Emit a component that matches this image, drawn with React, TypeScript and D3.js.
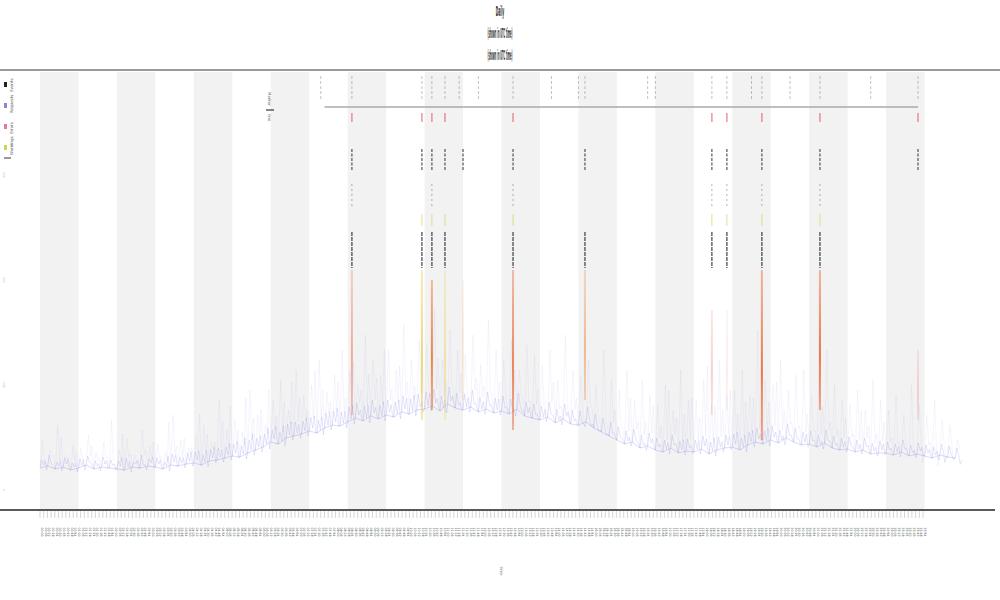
import React from "react";
import * as d3 from "d3";

// hours of the day, one band per hour
const hours = d3.range(0, 24);

// blue series: baseline (lower envelope) and spike tops, 5 samples per hour
const baseline = [
  42, 44, 41, 43, 40, 42, 45, 41, 43, 42, 41, 40, 43, 42, 44, 43, 41, 45, 44, 46,
  47, 45, 49, 50, 52, 54, 53, 57, 60, 63, 68, 66, 72, 74, 76, 79, 77, 82, 85, 84,
  88, 92, 89, 94, 91, 95, 93, 98, 96, 100, 101, 104, 99, 106, 102, 100, 103, 98, 101, 97,
  99, 96, 101, 94, 92, 90, 93, 87, 91, 86, 85, 88, 82, 78, 74, 70, 66, 68, 62, 64,
  60, 58, 62, 57, 59, 58, 61, 56, 60, 62, 63, 60, 65, 68, 66, 70, 67, 72, 68, 65,
  66, 63, 67, 62, 60, 61, 58, 60, 56, 57, 57, 55, 58, 54, 56, 54, 52, 55, 53, 52,
];
const peaks = [
  70, 60, 85, 55, 65, 62, 75, 58, 68, 90, 60, 72, 55, 80, 64, 66, 58, 95, 70, 62,
  75, 85, 68, 110, 80, 90, 78, 120, 95, 85, 110, 130, 100, 140, 115, 125, 150, 118, 135, 160,
  140, 125, 175, 150, 135, 160, 140, 185, 150, 170, 165, 200, 150, 180, 160, 155, 175, 145, 190, 160,
  150, 170, 140, 165, 155, 145, 160, 130, 175, 140, 135, 150, 125, 160, 130, 120, 140, 110, 130, 115,
  105, 125, 100, 140, 110, 110, 130, 105, 150, 115, 120, 140, 115, 180, 130, 125, 150, 120, 135, 140,
  115, 135, 160, 125, 110, 105, 120, 100, 130, 110, 100, 115, 95, 125, 105, 95, 110, 90, 85, 70,
];
// small wiggle just above the baseline
const ripple = [
  50, 55, 48, 52, 47, 51, 54, 49, 53, 50, 49, 52, 48, 55, 51, 52, 48, 56, 53, 57,
  58, 55, 61, 62, 63, 66, 64, 70, 72, 76, 80, 78, 86, 88, 89, 93, 90, 97, 99, 98,
  103, 107, 104, 110, 105, 110, 108, 114, 111, 116, 118, 121, 114, 123, 117, 116, 120, 113, 118, 112,
  114, 111, 117, 108, 106, 104, 108, 101, 106, 100, 99, 103, 96, 92, 88, 83, 79, 81, 75, 77,
  72, 70, 75, 69, 71, 70, 74, 68, 73, 75, 76, 72, 78, 82, 79, 84, 80, 86, 82, 78,
  79, 75, 80, 74, 72, 73, 70, 72, 67, 69, 68, 66, 70, 65, 67, 65, 63, 66, 64, 62,
];

// events (hour position), orange line top / bottom, colour and which annotation tracks show
const eventHours = [8.11, 9.93, 10.19, 10.53, 11.0, 12.3, 14.17, 17.47, 17.86, 18.77, 20.28, 22.83];
const eventTop = [240, 240, 230, 240, 230, 240, 240, 200, 200, 240, 240, 160];
const eventBottom = [95, 90, 100, 90, 110, 80, 110, 95, 100, 70, 100, 90];
const eventColor = ["#e8552a", "#e6c43a", "#e8702a", "#e6d050", "#e8a060", "#e8602a", "#e8803a", "#e86060", "#e8a0a0", "#e8602a", "#e8602a", "#f0a0a0"];
const eventOpacity = [0.45, 0.7, 0.85, 0.45, 0.2, 0.75, 0.5, 0.3, 0.2, 0.85, 0.85, 0.45];
const trackRed = [1, 1, 1, 1, 0, 1, 0, 1, 1, 1, 1, 1];
const trackBlack = [1, 1, 1, 1, 1, 1, 1, 1, 1, 1, 1, 1];
const trackGray = [1, 0, 1, 0, 0, 1, 0, 1, 1, 1, 1, 0];
const trackYellow = [0, 1, 1, 1, 0, 1, 0, 1, 1, 1, 1, 0];
const trackDense = [1, 1, 1, 1, 0, 1, 1, 1, 1, 1, 1, 0];

// small ticks in the top annotation strip
const topTicks = [7.3, 8.11, 9.93, 10.19, 10.53, 10.9, 11.4, 12.3, 13.3, 14.0, 14.17, 15.8, 16.0, 17.47, 17.86, 18.5, 18.77, 19.5, 20.28, 21.6, 22.83];

const legendNames = ["Events", "Requests", "Errors", "Warnings"];
const legendColors = ["#222222", "#8a84d8", "#e07aa0", "#c8d850"];
const titleLines = ["Daily", "(shown in UTC time)", "(shown in UTC time)"];
const yTickLabels = ["0", "100", "200", "300"];
const minuteLabels = ["00", "06", "12", "18", "24", "30", "36", "42", "48", "54"];

const W = 1000;
const H = 600;

export default function App() {
  const x = d3.scaleLinear().domain([0, 24]).range([40, 963]);
  const y = d3.scaleLinear().domain([0, 440]).range([510, 70]);
  const sampleX = (i: number) => x(i * 0.2);
  const step = sampleX(1) - sampleX(0);
  const line = d3.line();

  // tall faint spikes
  const spikePts: [number, number][] = [];
  baseline.forEach((b, i) => {
    spikePts.push([sampleX(i), y(b)]);
    spikePts.push([sampleX(i) + step * 0.3, y(peaks[i])]);
    spikePts.push([sampleX(i) + step * 0.55, y(ripple[i])]);
    spikePts.push([sampleX(i) + step * 0.75, y(peaks[(i + 7) % peaks.length] * 0.8)]);
  });
  // dense ripple close to the baseline
  const ripplePts: [number, number][] = [];
  baseline.forEach((b, i) => {
    ripplePts.push([sampleX(i), y(b)]);
    ripplePts.push([sampleX(i) + step * 0.2, y(ripple[i])]);
    ripplePts.push([sampleX(i) + step * 0.45, y(b + 3)]);
    ripplePts.push([sampleX(i) + step * 0.65, y(ripple[(i + 3) % ripple.length] * 0.95)]);
    ripplePts.push([sampleX(i) + step * 0.85, y(b - 2)]);
  });

  const xLabels: string[] = [];
  hours.forEach((h) =>
    minuteLabels.forEach((m) => xLabels.push(`${String(h).padStart(2, "0")}:${m}`))
  );
  const lx = d3.scaleLinear().domain([0, xLabels.length - 1]).range([40, 923]);

  const ev = (i: number) => x(eventHours[i]);

  return (
    <svg width={W} height={H} style={{ position: "absolute", left: 0, top: 0 }} fontFamily="DejaVu Sans">
      <defs>
        {eventHours.map((h, i) => (
          <linearGradient key={h} id={`eg${i}`} x1="0" y1="0" x2="0" y2="1">
            <stop offset="0" stopColor={eventColor[i]} stopOpacity={eventOpacity[i] * 0.5} />
            <stop offset="0.6" stopColor={eventColor[i]} stopOpacity={eventOpacity[i]} />
            <stop offset="1" stopColor={eventColor[i]} stopOpacity={eventOpacity[i] * 0.6} />
          </linearGradient>
        ))}
      </defs>
      <rect width={W} height={H} fill="#fff" />
      {/* alternating hour bands */}
      {hours.filter((h) => h % 2 === 0).map((h) => (
        <rect key={h} x={x(h)} y={72} width={x(h + 1) - x(h)} height={438} fill="#f2f2f2" />
      ))}
      {/* title */}
      {titleLines.map((t, i) => (
        <text key={i} transform={`translate(500,${16 + i * 22}) scale(${i === 0 ? 0.3 : 0.22},1.4)`} textAnchor="middle" fontSize={10} fill="#333" fontWeight="bold">
          {t}
        </text>
      ))}
      <line x1={0} x2={W} y1={70} y2={70} stroke="#999" strokeWidth={2} />

      {/* legend */}
      {legendNames.map((n, i) => (
        <g key={n} transform={`translate(4,${82 + i * 21})`}>
          <rect x={0} y={0} width={3} height={5} fill={legendColors[i]} />
          <text transform="translate(9,10) rotate(-90)" fontSize={4} fill="#555">{n}</text>
        </g>
      ))}
      <line x1={4} x2={11} y1={158} y2={158} stroke="#333" strokeWidth={1} />

      {/* secondary legend */}
      <text transform="translate(268,92) rotate(90)" fontSize={4} fill="#666">Marker</text>
      <line x1={266} x2={274} y1={110} y2={110} stroke="#333" strokeWidth={1.2} />
      <text transform="translate(268,114) rotate(90)" fontSize={4} fill="#666">line</text>

      {/* y axis labels */}
      {yTickLabels.map((t, i) => (
        <text key={t} transform={`translate(5,${y(20 + i * 105)}) rotate(-90)`} fontSize={3} fill="#bbb" textAnchor="middle">{t}</text>
      ))}

      {/* blue series */}
      <path d={line(spikePts) ?? ""} fill="none" stroke="#7070e8" strokeOpacity={0.14} strokeWidth={0.5} />
      <path d={line(ripplePts) ?? ""} fill="none" stroke="#7070e8" strokeOpacity={0.3} strokeWidth={0.6} />
      <path d={line(baseline.map((b, i) => [sampleX(i), y(b)])) ?? ""} fill="none" stroke="#7a7ae8" strokeOpacity={0.35} strokeWidth={0.8} />

      {/* event orange lines */}
      {eventHours.map((h, i) => (
        <rect key={h} x={ev(i) - 1} width={2} y={y(eventTop[i])} height={y(eventBottom[i]) - y(eventTop[i])} fill={`url(#eg${i})`} />
      ))}

      {/* annotation strip */}
      <line x1={x(7.4)} x2={x(22.83)} y1={107} y2={107} stroke="#aaa" strokeWidth={1.5} />
      {topTicks.map((h) => (
        <line key={h} x1={x(h)} x2={x(h)} y1={76} y2={101} stroke="#444" strokeOpacity={0.4} strokeWidth={0.8} strokeDasharray="3,2" />
      ))}
      {eventHours.map((h, i) => (
        <g key={`t${h}`}>
          {trackRed[i] ? <line x1={ev(i)} x2={ev(i)} y1={113} y2={122} stroke="#e84a5a" strokeOpacity={0.6} strokeWidth={1.5} /> : null}
          {trackBlack[i] ? <line x1={ev(i)} x2={ev(i)} y1={149} y2={170} stroke="#222" strokeOpacity={0.65} strokeWidth={1.4} strokeDasharray="3,1.5" /> : null}
          {trackGray[i] ? <line x1={ev(i)} x2={ev(i)} y1={184} y2={206} stroke="#555" strokeOpacity={0.45} strokeWidth={1} strokeDasharray="2,3" /> : null}
          {trackYellow[i] ? <line x1={ev(i)} x2={ev(i)} y1={214} y2={226} stroke="#d8d050" strokeOpacity={0.55} strokeWidth={1.2} /> : null}
          {trackDense[i] ? <line x1={ev(i)} x2={ev(i)} y1={232} y2={268} stroke="#111" strokeOpacity={0.6} strokeWidth={1.6} strokeDasharray="4,1" /> : null}
        </g>
      ))}

      {/* x axis */}
      <line x1={0} x2={995} y1={510} y2={510} stroke="#222" strokeWidth={1.5} />
      {xLabels.map((l, i) => (
        <g key={l}>
          <line x1={lx(i)} x2={lx(i)} y1={511} y2={518} stroke="#aaa" strokeWidth={0.5} />
          <text transform={`translate(${lx(i) + 1},${532}) rotate(90)`} fontSize={3.2} fill="#444" textAnchor="middle">{l}</text>
        </g>
      ))}
      <text transform="translate(500,571) rotate(90)" fontSize={4} fill="#777" textAnchor="middle">time</text>
    </svg>
  );
}
